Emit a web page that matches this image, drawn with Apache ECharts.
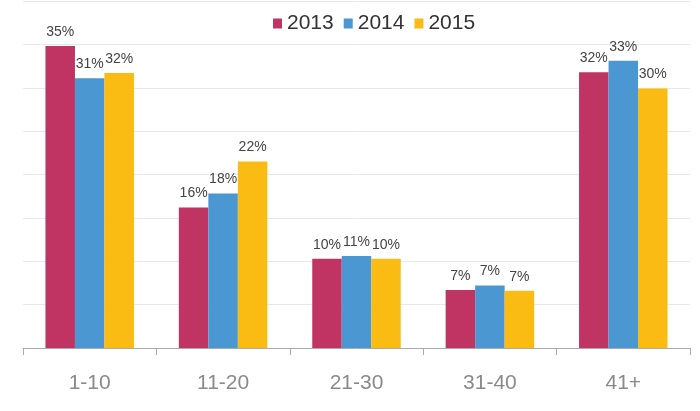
<!DOCTYPE html>
<html><head><meta charset="utf-8">
<script src="https://cdn.jsdelivr.net/npm/echarts@6/dist/echarts.min.js"></script>
<style>html,body{margin:0;padding:0;background:#fff}#c{width:700px;height:411px}</style>
</head><body><div id="c"></div>
<script>
var categories = ['1-10', '11-20', '21-30', '31-40', '41+'];
var seriesNames = ['2013', '2014', '2015'];
var values2013 = [34.8, 16.2, 10.3, 6.7, 31.8];
var values2014 = [31.1, 17.8, 10.6, 7.2, 33.1];
var values2015 = [31.7, 21.5, 10.3, 6.6, 29.9];
var colors = ['#BF3462', '#4A97D1', '#FABB12'];
var font = 'Liberation Sans, Arial, sans-serif';
var allValues = [values2013, values2014, values2015];
var chart = echarts.init(document.getElementById('c'), null, {renderer: 'canvas'});
chart.setOption({
  animation: false,
  textStyle: {fontFamily: font},
  legend: {
    left: 268, top: 8, itemWidth: 9, itemHeight: 10, itemGap: 10,
    icon: 'rect',
    textStyle: {fontSize: 21, color: '#333', fontFamily: font},
    data: seriesNames
  },
  grid: {left: 23, right: 10, top: 1, bottom: 63},
  xAxis: {
    type: 'category', data: categories,
    axisLine: {lineStyle: {color: '#aaa'}},
    axisTick: {show: true, length: 7, lineStyle: {color: '#aaa'}},
    axisLabel: {fontSize: 21, color: '#8a8a8a', margin: 25, fontFamily: font}
  },
  yAxis: {
    type: 'value', min: 0, max: 40, interval: 5,
    axisLabel: {show: false}, axisLine: {show: false}, axisTick: {show: false},
    splitLine: {lineStyle: {color: '#e8e8e8'}}
  },
  series: seriesNames.map(function (n, i) {
    return {
      name: n, type: 'bar', data: allValues[i],
      barWidth: 29.5, barGap: '0%',
      itemStyle: {color: colors[i]},
      label: {
        show: true, position: 'top', distance: 7,
        fontSize: 14, color: '#444', fontFamily: font,
        formatter: function (p) { return Math.round(p.value) + '%'; }
      }
    };
  })
});
</script></body></html>
